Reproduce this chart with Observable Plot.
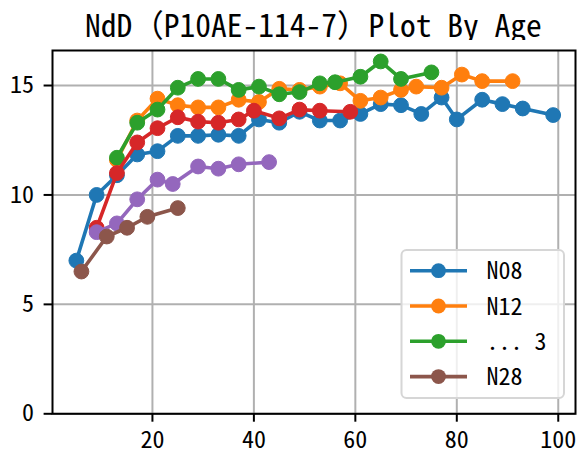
<!DOCTYPE html>
<html>
<head>
<meta charset="utf-8">
<script src="https://cdn.jsdelivr.net/npm/d3@7"></script>
<script src="https://cdn.jsdelivr.net/npm/@observablehq/plot@0.6"></script>
<style>
  html, body { margin: 0; padding: 0; background: white; }
  #wrap { position: relative; width: 577px; height: 455px; overflow: hidden; }
  #title { position: absolute; left: 52px; width: 523px; top: 5px; text-align: center;
           font-size: 31.5px; line-height: 36px; white-space: pre; color: black; }
  #chart { position: absolute; left: 0; top: 40px; }
  #legend { position: absolute; left: 0; top: 0; pointer-events: none; }
  .f { font-family: 'Noto Sans Mono CJK SC', 'Noto Sans CJK SC', sans-serif; }
</style>
</head>
<body>
<div id="wrap">
  <div id="title" class="f"></div>
  <div id="chart"></div>
  <div id="legend"></div>
</div>
<script>
const FONT = "'Noto Sans Mono CJK SC', 'Noto Sans CJK SC', sans-serif";
const titleText = "NdD（P10AE-114-7）Plot By Age";

// Series data (age, value)
const ageN08 = [5, 9, 13, 17, 21, 25, 29, 33, 37, 41, 45, 49, 53, 57, 61, 65, 69, 73, 77, 80, 85, 89, 93, 99];
const valN08 = [7.0, 10.0, 10.9, 11.85, 12.0, 12.7, 12.7, 12.75, 12.7, 13.45, 13.3, 13.8, 13.4, 13.4, 13.7, 14.15, 14.1, 13.7, 14.45, 13.45, 14.35, 14.15, 13.95, 13.65];

const ageN12 = [13, 17, 21, 25, 29, 33, 37, 41, 45, 49, 53, 57, 61, 65, 69, 72, 77, 81, 85, 91];
const valN12 = [11.6, 13.4, 14.4, 14.1, 14.0, 14.0, 14.35, 14.25, 14.85, 14.8, 14.95, 15.1, 14.3, 14.45, 14.8, 14.95, 14.9, 15.5, 15.2, 15.2];

const ageG = [13, 17, 21, 25, 29, 33, 37, 41, 45, 49, 53, 56, 61, 65, 69, 75];
const valG = [11.7, 13.3, 13.9, 14.9, 15.3, 15.3, 14.8, 14.95, 14.6, 14.7, 15.1, 15.15, 15.4, 16.1, 15.3, 15.6];

const ageR = [9, 13, 17, 21, 25, 29, 33, 37, 40, 45, 49, 53, 59];
const valR = [8.5, 11.0, 12.4, 13.05, 13.55, 13.35, 13.3, 13.45, 13.85, 13.5, 13.9, 13.85, 13.8];

const ageP = [9, 13, 17, 21, 24, 29, 33, 37, 43];
const valP = [8.3, 8.7, 9.8, 10.7, 10.5, 11.3, 11.2, 11.4, 11.5];

const ageN28 = [6, 11, 15, 19, 25];
const valN28 = [6.5, 8.1, 8.5, 9.0, 9.4];

const seriesColors = ["#1f77b4", "#ff7f0e", "#2ca02c", "#d62728", "#9467bd", "#8c564b"];
const xTicks = [20, 40, 60, 80, 100];
const yTicks = [0, 5, 10, 15];
const legendLabels = ["N08", "N12", "... 3", "N28"];
const legendColors = ["#1f77b4", "#ff7f0e", "#2ca02c", "#8c564b"];

const series = [
  [ageN08, valN08], [ageN12, valN12], [ageG, valG],
  [ageR, valR], [ageP, valP], [ageN28, valN28]
].map(([a, v], i) => a.map((age, j) => ({age, value: v[j], color: seriesColors[i]})));

const seriesMarks = series.flatMap(rows => [
  Plot.line(rows, {x: "age", y: "value", stroke: rows[0].color, strokeWidth: 3.6}),
  Plot.dot(rows, {x: "age", y: "value", fill: rows[0].color, stroke: rows[0].color, strokeWidth: 1, r: 7.4})
]);

document.getElementById("title").textContent = titleText;

const chart = Plot.plot({
  width: 577,
  height: 415,
  marginLeft: 52,
  marginRight: 2,
  marginTop: 10,
  marginBottom: 41.7,
  style: {fontFamily: FONT, fontSize: "24px", background: "white", color: "black"},
  x: {domain: [0.3, 103.4]},
  y: {domain: [0, 16.6]},
  marks: [
    Plot.gridX(xTicks, {stroke: "#b0b0b0", strokeOpacity: 1, strokeWidth: 2}),
    Plot.gridY(yTicks, {stroke: "#b0b0b0", strokeOpacity: 1, strokeWidth: 2}),
    ...seriesMarks,
    Plot.frame({stroke: "black", strokeWidth: 2}),
    Plot.axisX(xTicks, {tickSize: 8.4, tickPadding: 9, strokeWidth: 2, label: null, fontSize: 24}),
    Plot.axisY(yTicks, {tickSize: 8.4, tickPadding: 10, strokeWidth: 2, label: null, fontSize: 24})
  ]
});
document.getElementById("chart").appendChild(chart);

// Legend (overlay, page coords)
const lg = d3.select("#legend").append("svg").attr("width", 577).attr("height", 455);
lg.append("rect").attr("x", 401.5).attr("y", 250).attr("width", 162.5).attr("height", 148)
  .attr("rx", 5).attr("fill", "white").attr("fill-opacity", 0.8)
  .attr("stroke", "#d6d6d6").attr("stroke-width", 2);
legendLabels.forEach((lab, i) => {
  const cy = 270.7 + i * 35.3;
  lg.append("line").attr("x1", 410).attr("x2", 467).attr("y1", cy).attr("y2", cy)
    .attr("stroke", legendColors[i]).attr("stroke-width", 3.6);
  lg.append("circle").attr("cx", 438.5).attr("cy", cy).attr("r", 7.4).attr("fill", legendColors[i]);
  lg.append("text").attr("x", 486.5).attr("y", cy).attr("dy", "0.36em")
    .attr("font-family", FONT).attr("font-size", 24).attr("fill", "black")
    .attr("xml:space", "preserve").style("white-space", "pre").text(lab);
});
</script>
</body>
</html>
